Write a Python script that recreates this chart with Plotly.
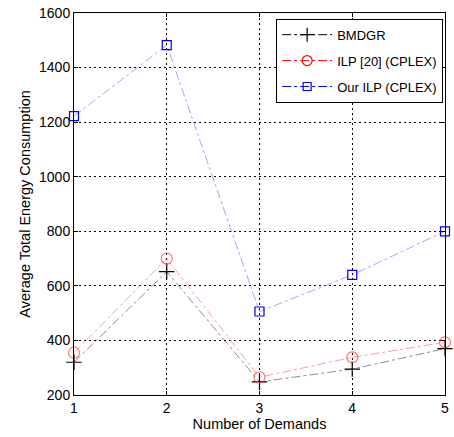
import plotly.graph_objects as go

demands = [1, 2, 3, 4, 5]
bmdgr = [320, 652, 248, 295, 370]
ilp20 = [355, 700, 265, 338, 393]
our_ilp = [1222, 1482, 506, 640, 800]

x_ticks = [1, 2, 3, 4, 5]
y_ticks = [200, 400, 600, 800, 1000, 1200, 1400, 1600]

FONT = "Liberation Sans, Arial"

series = [
    ("BMDGR", bmdgr, "rgba(0,0,0,0.45)", "black", "cross-thin", 11, "black"),
    ("ILP [20] (CPLEX)", ilp20, "rgba(255,80,80,0.55)", "red", "circle-open", 11, "rgba(255,60,60,0.7)"),
    ("Our ILP (CPLEX)", our_ilp, "rgba(90,90,255,0.55)", "blue", "square-open", 9, "blue"),
]

fig = go.Figure()
for name, ys, lc, fc, sym, sz, mc in series:
    fig.add_trace(go.Scatter(
        x=demands, y=ys, mode="lines+markers", name=name, showlegend=False,
        cliponaxis=False,
        line=dict(color=lc, width=1, dash="dashdot"),
        marker=dict(symbol=sym, size=sz, color=mc, line=dict(color=mc, width=1.2)),
    ))
for name, ys, lc, fc, sym, sz, mc in series:
    fig.add_trace(go.Scatter(
        x=[None], y=[None], mode="lines+markers", name=name, legendgroup=name,
        line=dict(color=fc, width=1, dash="dashdot"),
        marker=dict(symbol=sym, size=sz - 1, color=fc, line=dict(color=fc, width=1.2)),
    ))

axis_common = dict(
    showline=True, linecolor="black", linewidth=1, mirror="ticks",
    ticks="inside", ticklen=4, tickcolor="black",
    showgrid=True, gridcolor="black", gridwidth=1, griddash="2px,3px",
    zeroline=False, tickfont=dict(family=FONT, size=14, color="black"),
)

fig.update_xaxes(range=[1, 5], tickvals=x_ticks, ticktext=[str(v) for v in x_ticks],
                 title=dict(text="Number of Demands", font=dict(family=FONT, size=14.5, color="black"), standoff=2),
                 **axis_common)
fig.update_yaxes(range=[200, 1600], tickvals=y_ticks, ticktext=[str(v) for v in y_ticks],
                 title=dict(text="Average Total Energy Consumption", font=dict(family=FONT, size=14.5, color="black"), standoff=4),
                 **axis_common)

fig.update_layout(
    width=454, height=437,
    margin=dict(l=74, r=5, t=12, b=42),
    paper_bgcolor="white", plot_bgcolor="white",
    legend=dict(x=0.995, y=0.985, xanchor="right", yanchor="top",
                bgcolor="white", bordercolor="black", borderwidth=1,
                font=dict(family=FONT, size=13, color="black"),
                itemwidth=50, tracegroupgap=6),
)

fig.write_html("out.html", config={"displayModeBar": False})

with open("out.html", "r", encoding="utf-8") as f:
    html = f.read()
html = html.replace("<body>", '<body style="margin:0;overflow:hidden">', 1)
with open("out.html", "w", encoding="utf-8") as f:
    f.write(html)
